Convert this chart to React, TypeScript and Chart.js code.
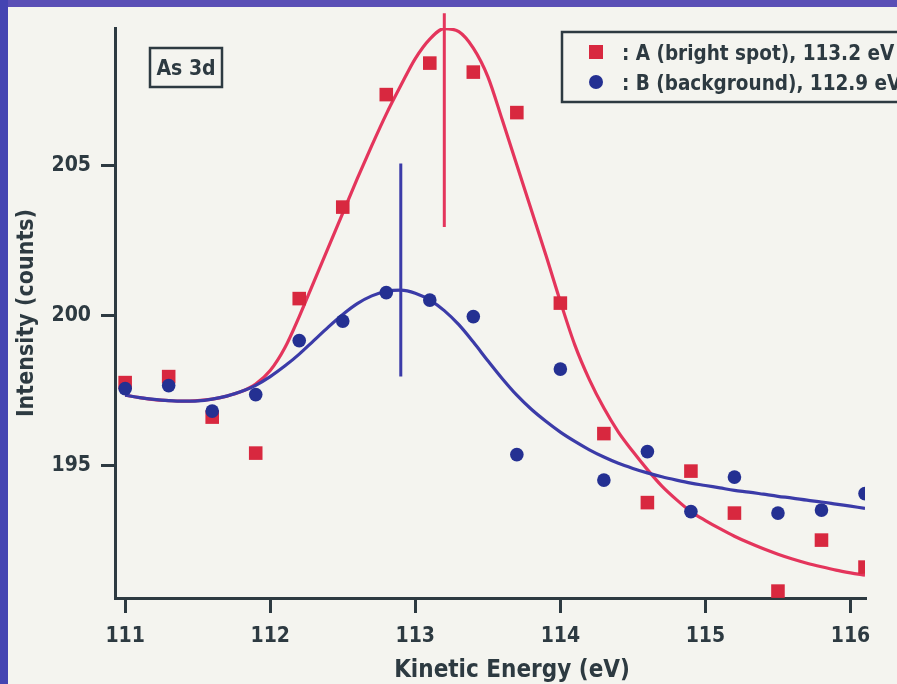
import React, { useEffect, useRef } from "react";
import { Chart, registerables } from "chart.js";

Chart.register(...registerables);

// ---------- data ----------
const energies = [111.0, 111.3, 111.6, 111.9, 112.2, 112.5, 112.8, 113.1, 113.4, 113.7, 114.0, 114.3, 114.6, 114.9, 115.2, 115.5, 115.8, 116.1];
const intensityA = [197.75, 197.95, 196.6, 195.4, 200.55, 203.6, 207.35, 208.4, 208.1, 206.75, 200.4, 196.05, 193.75, 194.8, 193.4, 190.8, 192.5, 191.6];
const intensityB = [197.55, 197.65, 196.8, 197.35, 199.15, 199.8, 200.75, 200.5, 199.95, 195.35, 198.2, 194.5, 195.45, 193.45, 194.6, 193.4, 193.5, 194.05];

const fitEnergies = [111.0, 111.1, 111.2, 111.3, 111.4, 111.5, 111.6, 111.7, 111.8, 111.9, 112.0, 112.1, 112.2, 112.3, 112.4, 112.5, 112.6, 112.7, 112.8, 112.9, 113.0, 113.1, 113.2, 113.3, 113.4, 113.5, 113.6, 113.7, 113.8, 113.9, 114.0, 114.1, 114.2, 114.3, 114.4, 114.5, 114.6, 114.7, 114.8, 114.9, 115.0, 115.1, 115.2, 115.3, 115.4, 115.5, 115.6, 115.7, 115.8, 115.9, 116.0, 116.1];
const fitA = [197.33, 197.25, 197.18, 197.15, 197.13, 197.15, 197.2, 197.3, 197.45, 197.7, 198.15, 198.9, 199.95, 201.1, 202.25, 203.4, 204.55, 205.65, 206.7, 207.65, 208.55, 209.2, 209.55, 209.45, 208.9, 207.95, 206.5, 205.0, 203.5, 202.0, 200.45, 199.0, 197.85, 196.9, 196.1, 195.45, 194.85, 194.3, 193.85, 193.45, 193.15, 192.88, 192.63, 192.41, 192.21, 192.03, 191.87, 191.73, 191.61, 191.5, 191.41, 191.33];
const fitB = [197.33, 197.25, 197.19, 197.15, 197.13, 197.14, 197.2, 197.3, 197.45, 197.66, 197.95, 198.3, 198.7, 199.15, 199.6, 200.02, 200.38, 200.64, 200.79, 200.83, 200.73, 200.5, 200.15, 199.68, 199.1, 198.48, 197.88, 197.33, 196.86, 196.46, 196.1, 195.79, 195.51, 195.27, 195.06, 194.89, 194.74, 194.61, 194.5, 194.4, 194.32, 194.24, 194.16, 194.1, 194.03, 193.96, 193.9, 193.83, 193.77, 193.7, 193.63, 193.56];

const peakA = [113.2];
const peakALine = [210.06, 202.94];
const peakB = [112.9];
const peakBLine = [205.05, 197.95];

const xTickValues = [111, 112, 113, 114, 115, 116];
const yTickValues = [195, 200, 205];
const legendLabels = [": A (bright spot), 113.2 eV", ": B (background), 112.9 eV"];
const panelLabel = "As 3d";
const xTitle = "Kinetic Energy (eV)";
const yTitle = "Intensity (counts)";

// ---------- styles ----------
const inkColor = "#2d3a41";
const bgColor = "#f4f4ef";
const redLine = "#e4355c";
const redMark = "#d8283f";
const blueLine = "#3b3ba8";
const blueMark = "#243092";
const fontFamily = "'DejaVu Sans Condensed', 'DejaVu Sans', sans-serif";

const overlayPlugin = {
  id: "overlayBoxes",
  afterDatasetsDraw(chart: any) {
    const { ctx, chartArea } = chart;
    ctx.save();
    // panel label box
    const bx = chartArea.left + 35;
    const by = chartArea.top + 20;
    ctx.fillStyle = bgColor;
    ctx.fillRect(bx, by, 72, 39);
    ctx.lineWidth = 2.5;
    ctx.strokeStyle = inkColor;
    ctx.strokeRect(bx, by, 72, 39);
    ctx.fillStyle = inkColor;
    ctx.font = `bold 21px ${fontFamily}`;
    ctx.textAlign = "center";
    ctx.textBaseline = "alphabetic";
    ctx.fillText(panelLabel, bx + 36, by + 27);

    // legend box
    const lx = chartArea.left + 447;
    const ly = chartArea.top + 4;
    ctx.fillStyle = bgColor;
    ctx.fillRect(lx, ly, 360, 70);
    ctx.strokeRect(lx, ly, 360, 70);
    const rows = [
      { style: "rect", color: redMark },
      { style: "circle", color: blueMark },
    ];
    rows.forEach((r, i) => {
      const cy = ly + 20 + i * 30;
      const mx = lx + 34;
      ctx.fillStyle = r.color;
      if (r.style === "rect") {
        ctx.fillRect(mx - 7, cy - 7, 14, 14);
      } else {
        ctx.beginPath();
        ctx.arc(mx, cy, 7, 0, Math.PI * 2);
        ctx.fill();
      }
      ctx.fillStyle = inkColor;
      ctx.font = `bold 20.5px ${fontFamily}`;
      ctx.textAlign = "left";
      ctx.textBaseline = "alphabetic";
      ctx.fillText(legendLabels[i], lx + 60, cy + 8);
    });

    // x-axis title (sits a little right of the axis centre in the original)
    ctx.fillStyle = inkColor;
    ctx.font = `bold 24px ${fontFamily}`;
    ctx.textAlign = "center";
    ctx.textBaseline = "alphabetic";
    ctx.fillText(xTitle, (chartArea.left + chartArea.right) / 2 + 22, chartArea.bottom + 79);
    ctx.restore();
  },
};

export default function App() {
  const canvasRef = useRef<HTMLCanvasElement | null>(null);

  useEffect(() => {
    document.body.style.margin = "0";
    const canvas = canvasRef.current;
    if (!canvas) return;

    const pts = (xs: number[], ys: number[]) => xs.map((x, i) => ({ x, y: ys[i] }));
    const vline = (x: number[], ys: number[]) => ys.map((y) => ({ x: x[0], y }));

    const tickFont = { family: fontFamily, size: 21, weight: "bold" as const };

    const chart = new Chart(canvas, {
      type: "scatter",
      data: {
        datasets: [
          {
            label: "B points",
            data: pts(energies, intensityB),
            pointStyle: "circle",
            pointRadius: 6.8,
            backgroundColor: blueMark,
            borderWidth: 0,
          },
          {
            label: "A points",
            data: pts(energies, intensityA),
            pointStyle: "rect",
            pointRadius: 9.6,
            backgroundColor: redMark,
            borderWidth: 0,
          },
          {
            label: "B peak",
            data: vline(peakB, peakBLine),
            showLine: true,
            pointRadius: 0,
            borderColor: blueLine,
            borderWidth: 3,
            clip: false,
          } as any,
          {
            label: "A peak",
            data: vline(peakA, peakALine),
            showLine: true,
            pointRadius: 0,
            borderColor: redLine,
            borderWidth: 3,
            clip: false,
          } as any,
          {
            label: "B fit",
            data: pts(fitEnergies, fitB),
            showLine: true,
            pointRadius: 0,
            borderColor: blueLine,
            borderWidth: 3.2,
            cubicInterpolationMode: "monotone",
          } as any,
          {
            label: "A fit",
            data: pts(fitEnergies, fitA),
            showLine: true,
            pointRadius: 0,
            borderColor: redLine,
            borderWidth: 3.2,
            cubicInterpolationMode: "monotone",
          } as any,
        ],
      },
      options: {
        animation: false,
        responsive: false,
        devicePixelRatio: 1,
        layout: { padding: { top: 28, right: 32, left: 0, bottom: 0 } },
        plugins: { legend: { display: false }, tooltip: { enabled: false } },
        events: [],
        scales: {
          x: {
            type: "linear",
            min: 110.93,
            max: 116.1,
            afterBuildTicks: (ax: any) => {
              ax.ticks = xTickValues.map((v) => ({ value: v }));
            },
            afterFit: (ax: any) => {
              ax.height = 86;
            },
            grid: { drawOnChartArea: false, drawTicks: true, tickLength: 15, color: inkColor, lineWidth: 3 },
            border: { display: true, color: inkColor, width: 3 },
            ticks: {
              color: inkColor,
              font: tickFont,
              padding: 11,
              maxRotation: 0,
              autoSkip: false,
              callback: (v: any) => String(v),
            },
            title: { display: false },
          },
          y: {
            type: "linear",
            min: 190.57,
            max: 209.57,
            afterBuildTicks: (ax: any) => {
              ax.ticks = yTickValues.map((v) => ({ value: v }));
            },
            afterFit: (ax: any) => {
              ax.width = 115;
            },
            grid: { drawOnChartArea: false, drawTicks: true, tickLength: 14, color: inkColor, lineWidth: 3 },
            border: { display: true, color: inkColor, width: 3 },
            ticks: {
              color: inkColor,
              font: tickFont,
              padding: 10,
              autoSkip: false,
              callback: (v: any) => String(v),
            },
            title: {
              display: true,
              text: yTitle,
              color: inkColor,
              font: { family: fontFamily, size: 23, weight: "bold" },
              padding: { top: 13, bottom: 0 },
            },
          },
        },
      },
      plugins: [overlayPlugin],
    });

    return () => chart.destroy();
  }, []);

  return (
    <div style={{ position: "relative", width: 897, height: 684, background: bgColor, overflow: "hidden" }}>
      <div style={{ position: "absolute", left: 0, top: 0, width: 897, height: 7, background: "#5a4fb6" }} />
      <div style={{ position: "absolute", left: 0, top: 0, width: 8, height: 684, background: "#4444b2" }} />
      <canvas ref={canvasRef} width={897} height={684} style={{ position: "absolute", left: 0, top: 0 }} />
    </div>
  );
}
